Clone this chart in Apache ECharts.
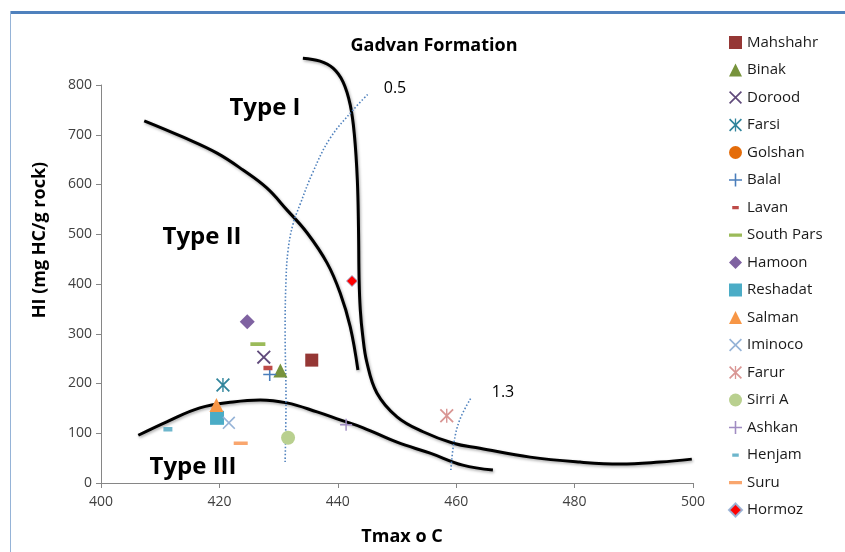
<!DOCTYPE html>
<html>
<head>
<meta charset="utf-8">
<script src="https://cdn.jsdelivr.net/npm/echarts@6/dist/echarts.min.js"></script>
<style>
  html, body { margin: 0; padding: 0; background: #fff; }
  #chart { width: 845px; height: 552px; }
</style>
</head>
<body>
<div id="chart"></div>
<script>
// samples (Tmax, HI)
const sampleNames = ['Mahshahr', 'Binak', 'Dorood', 'Farsi', 'Golshan', 'Balal', 'Lavan', 'South Pars', 'Hamoon',
  'Reshadat', 'Salman', 'Iminoco', 'Farur', 'Sirri A', 'Ashkan', 'Henjam', 'Suru', 'Hormoz'];
const tmaxValues = [435.6, 430.3, 427.5, 420.6, 419.6, 428.5, 428.2, 426.5, 424.7,
  419.6, 419.5, 421.6, 458.4, 431.6, 441.4, 411.3, 423.6, 442.4];
const hiValues = [247, 226, 253, 197, 135, 218, 231, 279, 324,
  131, 157, 121, 135, 91, 117, 108, 80, 406];

// kerogen type boundary curves
const typeIBoundary = [[434.1, 854], [437.0, 848], [439.2, 834], [440.9, 806], [442.1, 760], [442.8, 700],
  [443.3, 609], [443.5, 509], [443.6, 408], [443.8, 348], [444.2, 297], [444.9, 243], [446.6, 181],
  [450.0, 133], [454.4, 103], [459.5, 80], [464.0, 70], [472.5, 52], [480.9, 42], [487.7, 38],
  [494.4, 42], [499.8, 48]];
const typeIIBoundary = [[407.3, 728], [413.9, 695], [419.6, 663], [424.0, 629], [428.0, 593], [431.4, 549],
  [434.8, 503], [438.2, 442], [440.4, 382], [442.1, 314], [443.4, 227]];
const typeIIIBoundary = [[406.3, 96], [411.1, 123], [416.7, 151], [422.3, 163], [426.9, 167], [431.4, 161],
  [436.5, 143], [440.4, 127], [444.3, 111], [450.0, 82], [455.6, 60], [461.1, 36], [466.2, 26]];
// vitrinite reflectance iso-lines
const ro05Line = [[431.1, 42], [431.25, 167], [431.1, 307], [431.25, 408], [431.6, 468], [432.4, 519],
  [433.6, 559], [435.8, 625], [438.7, 693], [442.6, 750], [445.3, 784]];
const ro13Line = [[459.1, 26], [459.6, 80], [460.6, 127], [462.5, 171]];

const xTicks = { min: 400, max: 500, step: 20 };
const yTicks = { min: 0, max: 800, step: 100 };

// marker shapes, drawn in a 20x20 box
const corners = 'M0,0 L0.01,0 L0,0.01 Z M20,20 L19.99,20 L20,19.99 Z ';
const xMark = 'path://M0,1.8 L1.8,0 L20,18.2 L18.2,20 Z M18.2,0 L20,1.8 L1.8,20 L0,18.2 Z';
const starMark = 'path://M0,1.8 L1.8,0 L20,18.2 L18.2,20 Z M18.2,0 L20,1.8 L1.8,20 L0,18.2 Z M9,0 L11,0 L11,20 L9,20 Z';
const plusMark = 'path://M8.8,0 L11.2,0 L11.2,8.8 L20,8.8 L20,11.2 L11.2,11.2 L11.2,20 L8.8,20 L8.8,11.2 L0,11.2 L0,8.8 L8.8,8.8 Z';
const dashMark = 'path://' + corners + 'M0,7.5 L20,7.5 L20,12.5 L0,12.5 Z';
const smallDash = 'path://' + corners + 'M5,7.5 L15,7.5 L15,12.5 L5,12.5 Z';

const markerStyles = [
  { symbol: 'rect', size: 13, color: '#953735' },
  { symbol: 'triangle', size: 14, color: '#77933C' },
  { symbol: xMark, size: 14, color: '#604A7B' },
  { symbol: starMark, size: 14, color: '#31859C' },
  { symbol: 'circle', size: 11, color: '#E46C0A' },
  { symbol: plusMark, size: 13, color: '#4A7EBB' },
  { symbol: smallDash, size: 18, color: '#BE4B48' },
  { symbol: dashMark, size: 15, color: '#9BBB59' },
  { symbol: 'diamond', size: 15, color: '#7F62A1' },
  { symbol: 'rect', size: 14, color: '#4BACC6' },
  { symbol: 'triangle', size: 14, color: '#F79646' },
  { symbol: xMark, size: 13, color: '#95B3D7' },
  { symbol: starMark, size: 14, color: '#D99694' },
  { symbol: 'circle', size: 14, color: '#B9D08F' },
  { symbol: plusMark, size: 12, color: '#A08CC2' },
  { symbol: smallDash, size: 18, color: '#6DB6CC' },
  { symbol: dashMark, size: 14, color: '#F9A66E' },
  { symbol: 'diamond', size: 11, color: '#FF0000' }
];

const chart = echarts.init(document.getElementById('chart'));

const curveStyle = {
  color: '#000', width: 3,
  shadowColor: 'rgba(0,0,0,0.35)', shadowBlur: 3, shadowOffsetX: 1, shadowOffsetY: 1.5
};

function curve(data) {
  return {
    type: 'line', data: data, smooth: 0.4, showSymbol: false, clip: false, silent: true,
    lineStyle: curveStyle, z: 1
  };
}

function isoLine(data) {
  return {
    type: 'line', data: data, smooth: 0.4, showSymbol: false, clip: false, silent: true,
    lineStyle: { color: '#4F81BD', width: 1.6, type: [1.5, 2] }, z: 1
  };
}

const scatterSeries = sampleNames.map((name, i) => ({
  name: name,
  type: 'scatter',
  data: [[tmaxValues[i], hiValues[i]]],
  symbol: markerStyles[i].symbol,
  symbolSize: markerStyles[i].size,
  itemStyle: name === 'Hormoz'
    ? { color: markerStyles[i].color, opacity: 1, borderColor: 'rgba(149,179,215,0.9)', borderWidth: 1 }
    : { color: markerStyles[i].color, opacity: 1 },
  z: 3
}));

const axisLabelStyle = { color: '#404040', fontSize: 14, fontFamily: 'Open Sans' };

const option = {
  animation: false,
  backgroundColor: '#fff',
  textStyle: { fontFamily: 'Open Sans' },
  grid: { left: 101, right: 152, top: 85, bottom: 69 },
  xAxis: {
    type: 'value', min: xTicks.min, max: xTicks.max, interval: xTicks.step,
    axisLine: { lineStyle: { color: '#868686', width: 1 } },
    axisTick: { show: true, length: 5, lineStyle: { color: '#868686' } },
    splitLine: { show: false },
    axisLabel: Object.assign({ margin: 12 }, axisLabelStyle)
  },
  yAxis: {
    type: 'value', min: yTicks.min, max: yTicks.max, interval: yTicks.step,
    axisLine: { show: true, lineStyle: { color: '#868686', width: 1 } },
    axisTick: { show: true, length: 5, lineStyle: { color: '#868686' } },
    splitLine: { show: false },
    axisLabel: Object.assign({ margin: 9 }, axisLabelStyle)
  },
  legend: {
    data: sampleNames,
    orient: 'vertical',
    left: 728, top: 35,
    padding: 0,
    itemWidth: 13, itemHeight: 13, itemGap: 12.5,
    textStyle: { color: '#1a1a1a', fontSize: 15, fontFamily: 'Open Sans' }
  },
  graphic: [
    { type: 'rect', left: 10, top: 11, shape: { width: 835, height: 3 }, style: { fill: '#4F81BD' }, silent: true },
    { type: 'rect', left: 10, top: 11, shape: { width: 1, height: 541 }, style: { fill: '#95B3D7' }, silent: true },
    { type: 'text', x: 434, y: 46, style: { text: 'Gadvan Formation', fill: '#000', font: 'bold 18px "Open Sans"', textAlign: 'center', textVerticalAlign: 'middle' } },
    { type: 'text', x: 265, y: 108, style: { text: 'Type I', fill: '#000', font: 'bold 24px "Open Sans"', textAlign: 'center', textVerticalAlign: 'middle' } },
    { type: 'text', x: 202, y: 237, style: { text: 'Type II', fill: '#000', font: 'bold 24px "Open Sans"', textAlign: 'center', textVerticalAlign: 'middle' } },
    { type: 'text', x: 193, y: 467, style: { text: 'Type III', fill: '#000', font: 'bold 24px "Open Sans"', textAlign: 'center', textVerticalAlign: 'middle' } },
    { type: 'text', x: 395, y: 88, style: { text: '0.5', fill: '#000', font: '16px "Open Sans"', textAlign: 'center', textVerticalAlign: 'middle' } },
    { type: 'text', x: 503, y: 392, style: { text: '1.3', fill: '#000', font: '16px "Open Sans"', textAlign: 'center', textVerticalAlign: 'middle' } },
    { type: 'text', x: 402, y: 537, style: { text: 'Tmax o C', fill: '#000', font: 'bold 18px "Open Sans"', textAlign: 'center', textVerticalAlign: 'middle' } },
    { type: 'text', x: 40, y: 240, rotation: Math.PI / 2, style: { text: 'HI (mg HC/g rock)', fill: '#000', font: 'bold 18px "Open Sans"', textAlign: 'center', textVerticalAlign: 'middle' } }
  ],
  series: [
    curve(typeIBoundary),
    curve(typeIIBoundary),
    curve(typeIIIBoundary),
    isoLine(ro05Line),
    isoLine(ro13Line)
  ].concat(scatterSeries)
};

chart.setOption(option);
</script>
</body>
</html>
